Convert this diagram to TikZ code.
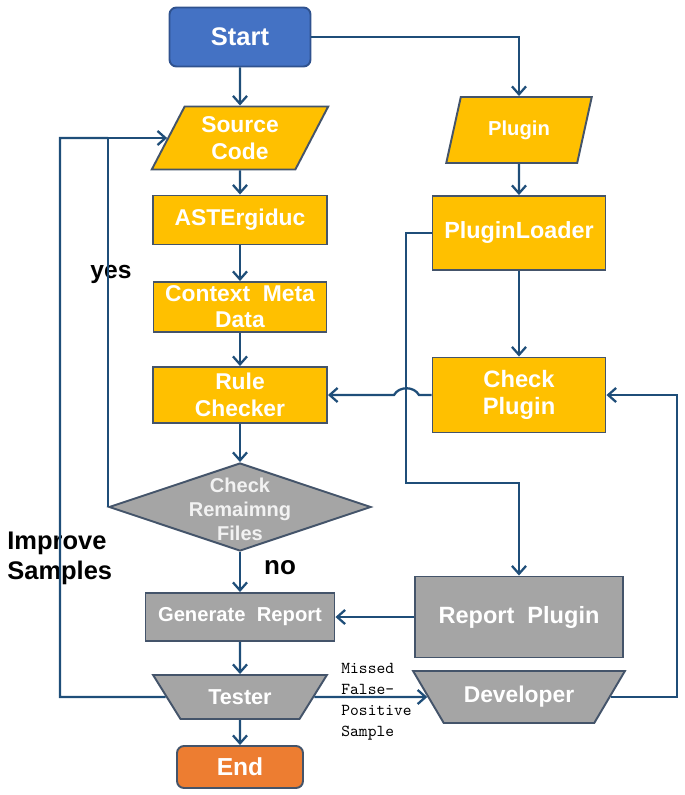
\documentclass[tikz,border=0pt]{standalone}
\usepackage{fontspec}
\setmainfont{Liberation Sans}
\usetikzlibrary{shapes.geometric,arrows.meta,positioning}
\definecolor{startblue}{HTML}{4472C4}
\definecolor{startrim}{HTML}{2F528F}
\definecolor{boxyellow}{HTML}{FFC000}
\definecolor{boxgray}{HTML}{A5A5A5}
\definecolor{endorange}{HTML}{ED7D31}
\definecolor{rimc}{HTML}{44546A}
\definecolor{flowc}{HTML}{1F4E79}
\newdimen\pxu \pxu=0.02cm
\newcommand{\fsz}[2]{\fontsize{#1}{#2}\selectfont}
\tikzset{
  >={Straight Barb[length=4.5pt,width=8pt]},
  box/.style={draw=rimc, line width=1.1pt, text=white, font=\bfseries, inner sep=0pt, align=center},
  terminal/.style={box, rectangle, rounded corners=7\pxu},
  proc/.style={box, rectangle, fill=boxyellow},
  io/.style={box, trapezium, fill=boxyellow, trapezium stretches=true},
  manual/.style={box, trapezium, fill=boxgray, trapezium stretches=true},
  decision/.style={box, diamond, fill=boxgray},
  flow/.style={->, draw=flowc, line width=1.3pt},
  line/.style={draw=flowc, line width=1.3pt},
  note/.style={font=\bfseries, text=black, inner sep=0pt}
}
\begin{document}
\begin{tikzpicture}[x=0.02cm, y=-0.02cm]
  \useasboundingbox (0,0) rectangle (685,795);

  % main column
  \node[terminal, fill=startblue, draw=startrim, minimum width=141\pxu, minimum height=59\pxu,
        font=\bfseries\fsz{14.5}{17}] (start) at (240,37) {Start};
  \node[io, trapezium left angle=61.6, trapezium right angle=118.4,
        minimum width=177\pxu, minimum height=63\pxu, font=\bfseries\fsz{13}{15}] (src) at (240,138) {Source\\Code};
  \node[proc, minimum width=174\pxu, minimum height=49\pxu, font=\bfseries\fsz{13}{15}] (aste) at (240,220) {ASTErgiduc};
  \node[proc, minimum width=173\pxu, minimum height=50\pxu, font=\bfseries\fsz{13}{14.7}] (ctx) at (240,307) {Context\ \ Meta\\Data};
  \node[proc, minimum width=174\pxu, minimum height=56\pxu, font=\bfseries\fsz{13}{15.3}] (rule) at (240,395) {Rule\\Checker};
  \node[decision, minimum width=262\pxu, minimum height=88\pxu,
        label={[font=\bfseries\fsz{11.4}{13.7}, text=white!95!black, align=center, yshift=-2\pxu]center:Check\\Remaimng\\Files}] (check) at (240,507) {};
  \node[proc, fill=boxgray, minimum width=189\pxu, minimum height=48\pxu, font=\bfseries\fsz{11.5}{14}] (gen) at (240,617) {Generate\ \ Report};
  \node[manual, trapezium left angle=134, trapezium right angle=134,
        minimum width=174\pxu, minimum height=44\pxu, font=\bfseries\fsz{12.3}{14}] (tester) at (240,697) {Tester};
  \node[terminal, fill=endorange, minimum width=126\pxu, minimum height=42\pxu,
        font=\bfseries\fsz{14}{16}] (end) at (240,767) {End};

  % plugin column
  \node[io, trapezium left angle=67.8, trapezium right angle=112.2,
        minimum width=146\pxu, minimum height=66\pxu, font=\bfseries\fsz{11.5}{14}] (plugin) at (519,130) {Plugin};
  \node[proc, minimum width=173\pxu, minimum height=74\pxu, font=\bfseries\fsz{13.3}{15}] (loader) at (519,233) {PluginLoader};
  \node[proc, minimum width=173\pxu, minimum height=75\pxu, font=\bfseries\fsz{13.5}{15.3}] (checkp) at (519,395) {Check\\Plugin};
  \node[proc, fill=boxgray, minimum width=208\pxu, minimum height=81\pxu, font=\bfseries\fsz{13.4}{15}] (report) at (519,617) {Report\ \ Plugin};
  \node[manual, trapezium left angle=136.6, trapezium right angle=136.6,
        minimum width=212\pxu, minimum height=52\pxu, font=\bfseries\fsz{13}{15}] (dev) at (519,697) {Developer};

  % labels
  \node[note, font=\bfseries\fsz{14}{16}] (yes) at (111,274) {yes};
  \node[note, font=\bfseries\fsz{14.8}{16}] (no) at (280,568) {no};
  \node[note, anchor=west, align=left, font=\bfseries\fsz{14.5}{17}] (improve) at (7,558) {Improve\\Samples};

  \coordinate (jog) at (406,483);
  \coordinate (rloop) at (677,395);
  \coordinate (oloop) at (60,138);

  \draw[flow] (start) -- (src);
  \draw[flow] (src) -- (aste);
  \draw[flow] (aste) -- (ctx);
  \draw[flow] (ctx) -- (rule);
  \draw[flow] (rule) -- (check);
  \draw[flow] (check) -- (gen);
  \draw[flow] (gen) -- (tester);
  \draw[flow] (tester) -- (end);

  \draw[flow] (start.east) -| (plugin.north);
  \draw[flow] (plugin) -- (loader);
  \draw[flow] (loader) -- (checkp);
  \draw[flow] (loader.west) -| (jog) -| (report.north);
  \draw[flow] (checkp.west) -- (419,395) .. controls (414,386) and (399,386) .. (394,395) -- (rule.east);
  \draw[flow] (report.west) -- (gen.east);

  \draw[flow] (check.west) |- (src.west);
  \draw[line] (tester.west) -| (oloop) -- (check.west |- src.west);
  \draw[flow] (tester.east) -- (dev.west)
    node[pos=0.23, anchor=west, align=left, inner sep=0pt, text=black, yshift=-5\pxu,
         font=\ttfamily\fsz{9.5}{11.9}] (missed) {Missed\\False-\\Positive\\Sample};
  \draw[flow] (dev.east) -| (rloop) -- (checkp.east);
\end{tikzpicture}
\end{document}
